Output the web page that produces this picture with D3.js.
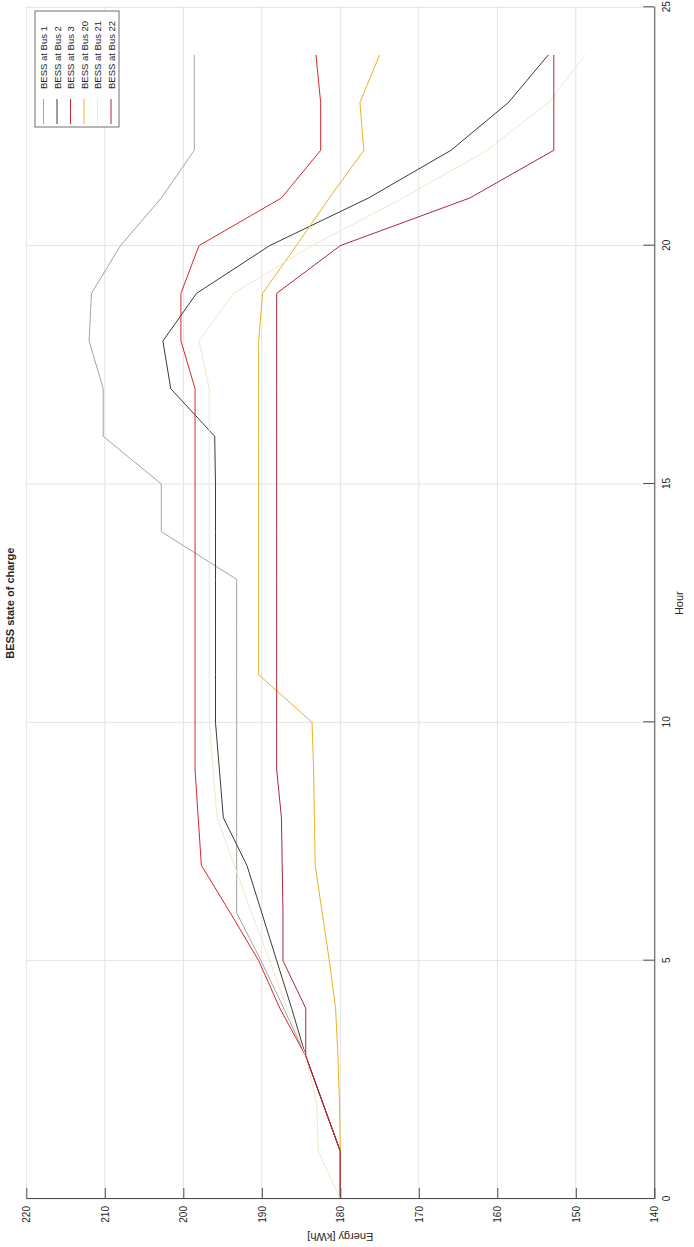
<!DOCTYPE html>
<html>
<head>
<meta charset="utf-8">
<script src="https://cdn.jsdelivr.net/npm/d3@7"></script>
<style>
  html, body { margin: 0; padding: 0; background: #fff; }
  svg { display: block; }
  text { font-family: "Liberation Sans", Arial, sans-serif; fill: #262626; }
</style>
</head>
<body>
<svg id="chart" width="694" height="1247"></svg>
<script>
// Hourly BESS state of charge, hours 0..24
const hours = d3.range(0, 25);
const seriesNames = ["BESS at Bus 1", "BESS at Bus 2", "BESS at Bus 3", "BESS at Bus 20", "BESS at Bus 21", "BESS at Bus 22"];
const seriesColors = ["#a3a3a3", "#3a3a3a", "#d8252e", "#edb120", "#f3e6cc", "#a8283c"];

const bus1 = [180, 180, 182.2, 184.4, 187.2, 190.1, 193.2, 193.2, 193.2, 193.2, 193.2, 193.2, 193.2, 193.2,
              202.8, 202.8, 210.2, 210.2, 212.0, 211.7, 208.0, 202.8, 198.6, 198.6, 198.6];
const bus2 = [180, 180, 182.2, 184.4, 186.2, 188.1, 190.0, 191.9, 194.9, 195.4, 195.9, 195.9, 195.9, 195.9,
              195.9, 195.9, 196.0, 201.6, 202.6, 198.3, 189.0, 176.4, 165.9, 158.6, 153.5];
const bus3 = [180, 180, 182.2, 184.4, 187.7, 190.4, 194.0, 197.7, 198.1, 198.5, 198.5, 198.5, 198.5, 198.5,
              198.5, 198.5, 198.5, 198.5, 200.3, 200.3, 198.0, 187.5, 182.5, 182.5, 183.1];
const bus20 = [180, 180, 180.1, 180.3, 180.6, 181.4, 182.3, 183.2, 183.3, 183.4, 183.6, 190.4, 190.4, 190.4,
               190.4, 190.4, 190.4, 190.4, 190.4, 189.9, 185.6, 181.4, 177.0, 177.5, 175.0];
const bus21 = [180, 182.8, 183.0, 184.4, 186.8, 189.0, 191.3, 193.5, 195.7, 196.2, 196.7, 196.7, 196.7, 196.7,
               196.7, 196.7, 196.7, 196.7, 198.0, 193.6, 183.6, 172.0, 161.3, 153.5, 148.8];
const bus22 = [180, 180, 182.2, 184.4, 184.4, 187.3, 187.3, 187.4, 187.5, 188.1, 188.1, 188.1, 188.1, 188.1,
               188.1, 188.1, 188.1, 188.1, 188.1, 188.1, 180.0, 163.5, 152.8, 152.8, 152.8];
const seriesValues = [bus1, bus2, bus3, bus20, bus21, bus22];

const hourTicks = [0, 5, 10, 15, 20, 25];
const energyTicks = [140, 150, 160, 170, 180, 190, 200, 210, 220];

const titleText = "BESS state of charge";
const xLabel = "Hour";
const yLabel = "Energy [kWh]";

// The figure is laid out landscape and turned a quarter turn counter-clockwise on the page
const pageW = 694, pageH = 1247;
const W = pageH, H = pageW;
const margin = { left: 48, right: 7.3, top: 26.3, bottom: 39.7 };

const svg = d3.select("#chart");
const g = svg.append("g").attr("transform", `translate(0,${pageH}) rotate(-90)`);

const x = d3.scaleLinear().domain([0, 25]).range([margin.left, W - margin.right]);
const y = d3.scaleLinear().domain([140, 220]).range([H - margin.bottom, margin.top]);

// grid
const grid = g.append("g").attr("stroke", "#e3e3e3").attr("stroke-width", 1);
grid.selectAll("line.gx").data(hourTicks).join("line")
  .attr("x1", d => x(d)).attr("x2", d => x(d))
  .attr("y1", y(140)).attr("y2", y(220));
grid.selectAll("line.gy").data(energyTicks).join("line")
  .attr("x1", x(0)).attr("x2", x(25))
  .attr("y1", d => y(d)).attr("y2", d => y(d));

// series lines
const line = d3.line().x((d, i) => x(hours[i])).y(d => y(d));
g.append("g").selectAll("path").data(seriesValues).join("path")
  .attr("d", d => line(d))
  .attr("fill", "none")
  .attr("stroke", (d, i) => seriesColors[i])
  .attr("stroke-width", 1)
  .attr("stroke-linejoin", "round");

// axes
const xAxis = d3.axisBottom(x).tickValues(hourTicks).tickFormat(d3.format("d"))
  .tickSizeInner(-11).tickSizeOuter(0).tickPadding(9);
const yAxis = d3.axisLeft(y).tickValues(energyTicks).tickFormat(d3.format("d"))
  .tickSizeInner(-11).tickSizeOuter(0).tickPadding(7);

const gx = g.append("g").attr("transform", `translate(0,${y(140)})`).call(xAxis);
const gy = g.append("g").attr("transform", `translate(${x(0)},0)`).call(yAxis);
[gx, gy].forEach(a => {
  a.select(".domain").attr("stroke", "#4d4d4d").attr("stroke-width", 1);
  a.selectAll(".tick line").attr("stroke", "#4d4d4d");
  a.selectAll(".tick text").attr("font-size", 10).attr("fill", "#262626")
    .attr("font-family", "'Liberation Sans', Arial, sans-serif");
});

// title and axis labels
g.append("text").attr("x", (x(0) + x(25)) / 2).attr("y", 14)
  .attr("text-anchor", "middle").attr("font-size", 11).attr("font-weight", "bold")
  .text(titleText);
g.append("text").attr("x", (x(0) + x(25)) / 2).attr("y", H - 11)
  .attr("text-anchor", "middle").attr("font-size", 11)
  .text(xLabel);
g.append("text")
  .attr("transform", `translate(${14},${(y(140) + y(220)) / 2}) rotate(-90)`)
  .attr("text-anchor", "middle").attr("font-size", 11)
  .text(yLabel);

// legend
const legX = 1120, legY = 35, legW = 116, legRow = 13.5;
const legend = g.append("g");
legend.append("rect")
  .attr("x", legX).attr("y", legY)
  .attr("width", legW).attr("height", legRow * seriesNames.length + 3)
  .attr("fill", "#fff").attr("stroke", "#4d4d4d").attr("stroke-width", 0.8);
const rows = legend.selectAll("g.row").data(seriesNames).join("g")
  .attr("transform", (d, i) => `translate(${legX},${legY + 8.5 + i * legRow})`);
rows.append("line").attr("x1", 3).attr("x2", 28).attr("y1", 0).attr("y2", 0)
  .attr("stroke", (d, i) => seriesColors[i]).attr("stroke-width", 1);
rows.append("text").attr("x", 38).attr("y", 3.5).attr("font-size", 9.5)
  .text(d => d);
</script>
</body>
</html>
